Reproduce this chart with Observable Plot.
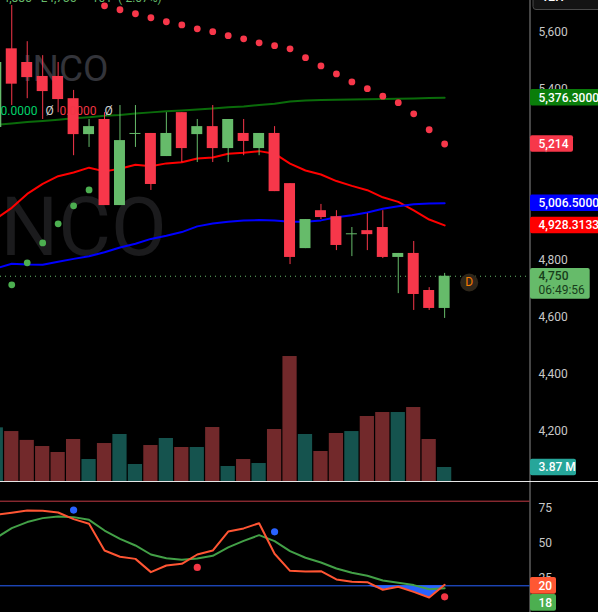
<!DOCTYPE html>
<html>
<head>
<meta charset="utf-8">
<script src="https://cdn.jsdelivr.net/npm/d3@7"></script>
<script src="https://cdn.jsdelivr.net/npm/@observablehq/plot@0.6"></script>
<style>
html,body{margin:0;padding:0;background:#000;overflow:hidden}
#chart{position:relative;width:598px;height:612px;background:#000;overflow:hidden}
#chart svg{position:absolute;left:0;display:block}
</style>
</head>
<body>
<div id="chart"></div>
<script>
const opens  = [5272,5548,5500,5451,5451,5373,5247,5300,4998,5251,5251,5170,5324,5247,5275,5198,5251,5198,5251,5075,4847,4980,4959,4899,4910,4921,4816,4830,4700,4637];
const highs  = [5500,5700,5573,5524,5500,5402,5300,5324,5349,5349,5251,5324,5324,5300,5349,5300,5300,5251,5275,5075,4949,5002,4980,4921,4970,4980,4830,4872,4710,4760];
const lows   = [5272,5349,5373,5300,5324,5173,5202,4998,4998,5202,5051,5170,5149,5149,5149,5149,5173,5173,5047,4791,4847,4949,4840,4819,4840,4812,4689,4630,4630,4602];
const closes = [5500,5424,5447,5398,5370,5247,5275,4998,5226,5251,5072,5251,5198,5275,5198,5300,5223,5251,5047,4816,4949,4956,4858,4899,4896,4816,4830,4686,4637,4750];
const maGreen = [5281,5286,5291,5295,5299,5304,5308,5313,5316,5321,5325,5329,5332,5335,5339,5343,5346,5351,5355,5363,5367,5368,5369,5370,5371,5372,5373,5374,5375.5,5376.3];
const maRed   = [4952,4990,5039,5074,5101,5114,5131,5118,5127,5141,5136,5146,5150,5163,5167,5180,5183,5189,5180,5145,5121,5107,5084,5067,5052,5027,5011,4981,4949,4928.3];
const maBlue  = [4778,4794,4791,4790,4801,4811,4820,4834,4851,4864,4881,4892,4905,4925,4935,4941,4946,4947,4946,4941,4941,4946,4957,4964,4974,4987,4996,5003,5005,5006.5];
const sarIndex = [1,2,3,4,5,6,7,8,9,10,11,12,13,14,15,16,17,18,19,20,21,22,23,24,25,26,27,28,29];
const sarValue = [4720,4797,4867,4934,4997,5053,5699,5685,5671,5657,5643,5632,5618,5608,5594,5583,5569,5559,5548,5517,5488,5460,5432,5408,5382,5359,5320,5264,5214];
const volumes = [14.6,13.6,11.2,9.55,7.93,11.45,6.03,10.36,12.8,4.68,9.82,11.72,9.28,9.28,14.69,4.14,6.03,4.95,14.15,33.9,12.8,8.2,13.07,13.6,17.67,18.75,18.75,20.1,11.45,3.87];
const stochK = [70.4,71.8,73.4,73.2,72,67.3,64,45,40.6,39.1,29.7,34.4,35.6,42.2,45,58.5,60.7,64.4,42.7,30.6,30.2,30.4,24.5,22.8,22.6,17.2,19.3,15.7,11.7,20.7];
const stochD = [54,60.9,65.2,68,69.2,68.7,66.8,59.2,53.3,48.6,42.2,39.6,38.4,39.4,41.3,47.2,51.9,55.9,51.7,44.6,39.9,36.5,32.3,29.2,27.1,23.8,22.1,20.5,17.6,18.3];
const crossDown = [{i:5,v:73.7},{i:18,v:58.3}];
const crossUp = [{i:13,v:33},{i:29,v:12.2}];
const priceTicks = [4200,4400,4600,4800,5000,5200,5400,5600];
const stochTicks = [25,50,75];
const priceTags = [
  {v:5376.3,text:"5,376.3000",fill:"#0a7d0a",color:"#fff"},
  {v:5214,text:"5,214",fill:"#f7374a",color:"#fff",right:573},
  {v:5006.5,text:"5,006.5000",fill:"#0000ff",color:"#fff"},
  {v:4928.3133,text:"4,928.3133",fill:"#ff0000",color:"#fff"}
];
const lastPrice = 4750, lastPriceText = "4,750", countdown = "06:49:56";
const volumeTag = "3.87 M";
const UP = "#66bb6a", DOWN = "#f7374a";
const FONT = "Roboto, sans-serif";

const table = opens.map((o,i)=>({i,o,h:highs[i],l:lows[i],c:closes[i],g:maGreen[i],r:maRed[i],b:maBlue[i],
  vol:volumes[i],k:stochK[i],d:stochD[i],up:closes[i]>=o}));
const sar = sarIndex.map((i,n)=>({i,v:sarValue[n],up:i<7}));

// x scale: candle step 15.46 px, first candle just off the left edge; axis at 529.5 px
const xAt = px => (px+4.2)/15.46;
const xDomain = [xAt(0), xAt(529.5)];
const HW = 0.355, VW = 0.46;
const base = (h, yopts) => ({
  width:598, height:h, marginLeft:0, marginRight:68.5, marginTop:0, marginBottom:0,
  x:{domain:xDomain, axis:null}, y:{...yopts, axis:null},
  style:{background:"transparent", fontFamily:FONT, fontSize:"12px", color:"#c8c8c8"}
});
const pxP = 3.50877;
const priceAt = py => 4200 + (432.5-py)*pxP;

const price = Plot.plot({...base(481,{domain:[priceAt(481),priceAt(0)]}), marks:[
  Plot.text(["INCO"],{x:xAt(22),y:priceAt(69),text:d=>d,textAnchor:"start",fontSize:37,fill:"#33343a"}),
  Plot.text(["NCO"],{x:xAt(0),y:priceAt(229),text:d=>d,textAnchor:"start",fontSize:81,fill:"#1b1b1d"}),
  Plot.axisY({anchor:"right",ticks:priceTicks,tickSize:0,tickPadding:8.5,tickFormat:d3.format(","),label:null,dy:-1.5,fontSize:12}),
  Plot.frame({anchor:"right",stroke:"#8a8a8a"}),
  Plot.ruleY([lastPrice],{stroke:UP,strokeDasharray:"1,4",strokeWidth:1}),
  Plot.line(table,{x:"i",y:"g",stroke:"#0a6b0a",strokeWidth:2}),
  Plot.line(table,{x:"i",y:"r",stroke:"#ff0000",strokeWidth:2}),
  Plot.line(table,{x:"i",y:"b",stroke:"#0000ff",strokeWidth:2}),
  Plot.ruleX(table,{x:"i",y1:"l",y2:"h",stroke:d=>d.up?UP:DOWN,strokeWidth:1}),
  Plot.rect(table,{x1:d=>d.i-HW,x2:d=>d.i+HW,y1:"o",y2:"c",fill:d=>d.up?UP:DOWN}),
  Plot.ruleY(table.filter(d=>d.o===d.c),{x1:d=>d.i-HW,x2:d=>d.i+HW,y:"c",stroke:UP,strokeWidth:1}),
  Plot.dot(sar,{x:"i",y:"v",r:3.4,fill:d=>d.up?"#4caf50":DOWN}),
  Plot.text(["0.0000"],{x:xAt(0),y:priceAt(110.7),text:d=>d,textAnchor:"start",fill:"#00d26a"}),
  Plot.text(["Ø"],{x:xAt(45),y:priceAt(110.7),text:d=>d,textAnchor:"start",fill:"#cfcfcf"}),
  Plot.text(["0.0000"],{x:xAt(59),y:priceAt(110.7),text:d=>d,textAnchor:"start",fill:"#f23645"}),
  Plot.text(["Ø"],{x:xAt(104),y:priceAt(110.7),text:d=>d,textAnchor:"start",fill:"#cfcfcf"}),
  Plot.text(["4,885   L4,735    -101  (-2.07%)"],{x:xAt(2),y:priceAt(-2.5),text:d=>d,textAnchor:"start",fill:UP}),
  Plot.dot([0],{x:()=>xAt(468.7),y:()=>priceAt(282),r:9,fill:"#2e261a"}),
  Plot.text(["D"],{x:xAt(468.7),y:priceAt(282),text:d=>d,fill:"#f57c00",fontSize:12}),
  Plot.rect([0],{x1:()=>xAt(533),x2:()=>xAt(610),y1:()=>priceAt(9.5),y2:()=>priceAt(-10),fill:"#141414",stroke:"#4a4a4a",rx:3}),
  Plot.text(["12H"],{x:xAt(541),y:priceAt(-3),text:d=>d,textAnchor:"start",fill:"#fff",fontWeight:600}),
  Plot.rect(priceTags,{x1:()=>xAt(530),x2:d=>xAt(d.right||600),y1:d=>d.v-8.25*pxP,y2:d=>d.v+8.25*pxP,fill:"fill",rx:2}),
  Plot.text(priceTags,{x:()=>xAt(538),y:"v",text:"text",textAnchor:"start",fill:"color",fontWeight:500}),
  Plot.rect([lastPrice],{x1:()=>xAt(530),x2:()=>xAt(589.7),y1:()=>priceAt(298.7),y2:()=>priceAt(268),fill:UP,rx:2}),
  Plot.text([lastPriceText],{x:xAt(538),y:priceAt(275.5),text:d=>d,textAnchor:"start",fill:"#173d1a",fontWeight:500}),
  Plot.text([countdown],{x:xAt(538),y:priceAt(289.5),text:d=>d,textAnchor:"start",fill:"#173d1a"})
]});
price.style.top = "0px";

const pxV = 0.2706;
const volume = Plot.plot({...base(142,{domain:[0,141.3*pxV],range:[141.3,0]}), marks:[
  Plot.rect(table,{x1:d=>d.i-VW,x2:d=>d.i+VW,y1:0,y2:"vol",fill:d=>d.up?"#15534e":"#72292b"}),
  Plot.ruleY([0],{x1:()=>xAt(0),x2:()=>xAt(598),stroke:"#e6e6e6",strokeWidth:1.5}),
  Plot.rect([volumes[29]],{x1:()=>xAt(530),x2:()=>xAt(576),y1:d=>d-8.3*pxV,y2:d=>d+8.3*pxV,fill:"#26a69a",rx:2}),
  Plot.text([volumes[29]],{x:()=>xAt(538),y:d=>d,text:()=>volumeTag,textAnchor:"start",fill:"#fff",fontWeight:500})
]});
volume.style.top = "340px";

const pxS = 1/1.41;
const stochAt = py => 20 + (103.3-py)*pxS;
const stoch = Plot.plot({...base(130,{domain:[stochAt(130),stochAt(0)]}), marks:[
  Plot.axisY({anchor:"right",ticks:stochTicks,tickSize:0,tickPadding:8.5,label:null,dy:-0.5,fontSize:12}),
  Plot.frame({anchor:"right",stroke:"#8a8a8a"}),
  Plot.ruleY([80],{stroke:"#c23a44",strokeWidth:1}),
  Plot.ruleY([20],{stroke:"#2962ff",strokeWidth:1}),
  Plot.areaY(table.filter(d=>d.i>=24),{x:"i",y1:d=>Math.min(d.k,20),y2:20,fill:"#2962ff",curve:"linear"}),
  Plot.line(table,{x:"i",y:"d",stroke:"#43a047",strokeWidth:2}),
  Plot.line(table,{x:"i",y:"k",stroke:"#ff5533",strokeWidth:2}),
  Plot.dot(crossDown,{x:"i",y:"v",r:3.6,fill:"#2962ff"}),
  Plot.dot(crossUp,{x:"i",y:"v",r:3.6,fill:"#f23645"}),
  Plot.rect([20],{x1:()=>xAt(530),x2:()=>xAt(556),y1:d=>d-8.4*pxS,y2:d=>d+8.4*pxS,fill:"#ff5733",rx:2}),
  Plot.text(["20"],{x:xAt(538),y:20,text:d=>d,textAnchor:"start",fill:"#fff",fontWeight:500}),
  Plot.rect([0],{x1:()=>xAt(530),x2:()=>xAt(556),y1:()=>stochAt(128.7),y2:()=>stochAt(112),fill:"#4caf50",rx:2}),
  Plot.text(["18"],{x:xAt(538),y:stochAt(120.3),text:d=>d,textAnchor:"start",fill:"#fff",fontWeight:500})
]});
stoch.style.top = "482px";

const host = document.getElementById("chart");
host.append(price, volume, stoch);
</script>
</body>
</html>
